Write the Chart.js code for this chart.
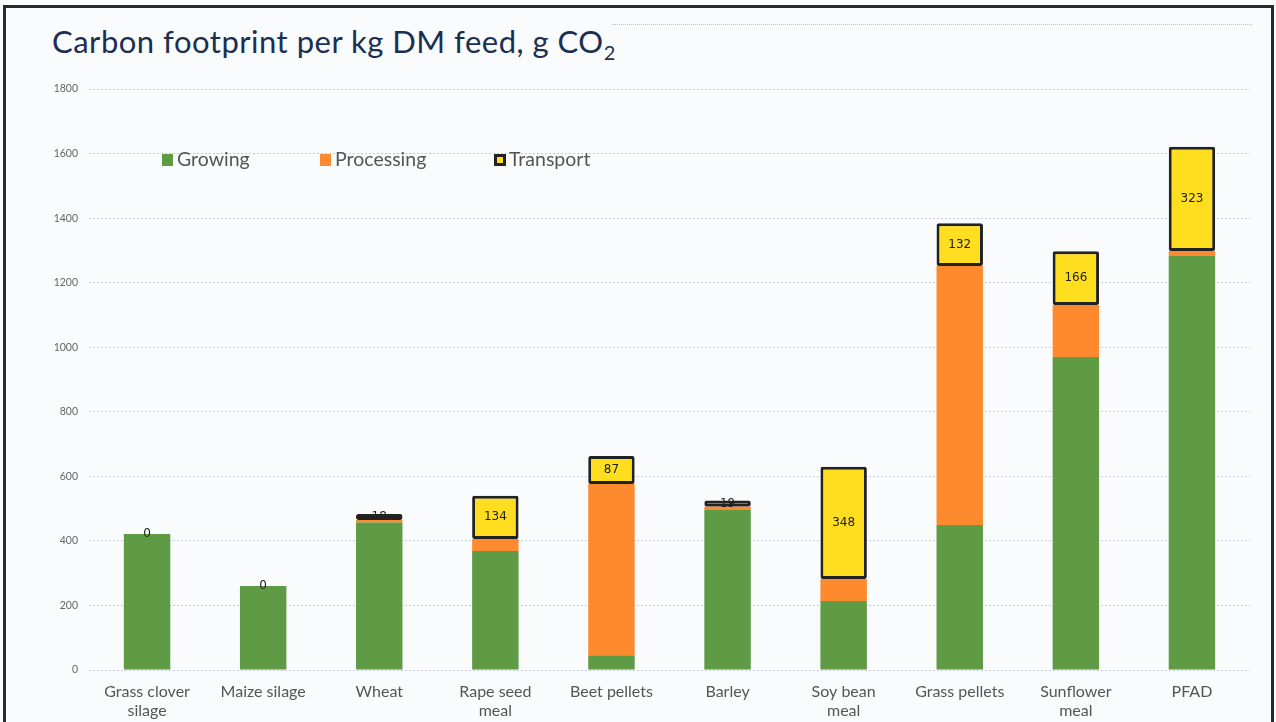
<!DOCTYPE html>
<html>
<head>
<meta charset="utf-8">
<script src="https://cdn.jsdelivr.net/npm/chart.js@4.4.0/dist/chart.umd.min.js"></script>
<style>
  html, body { margin: 0; padding: 0; background: #ffffff; }
  #wrap { position: relative; width: 1276px; height: 722px; background: #f9fbfd; overflow: hidden; }
  #frame { position: absolute; left: 3px; top: 5px; width: 1271px; height: 730px; border: 3px solid #2a2a2a; box-sizing: border-box; border-bottom: none; }
  #title { position: absolute; left: 52px; top: 22px; font-family: Lato, "Open Sans", sans-serif; font-size: 31px; color: #1b2f52; letter-spacing: 0.5px; white-space: nowrap; }
  #title sub { font-size: 20px; vertical-align: -7px; }
  #topdots { position: absolute; left: 612px; top: 24px; width: 640px; border-top: 1px dotted #b9bfd0; }
  canvas { position: absolute; left: 0; top: 0; }
</style>
</head>
<body>
<div id="wrap">
  <div id="frame"></div>
  <div id="topdots"></div>
  <div id="title">Carbon footprint per kg DM feed, g CO<sub>2</sub></div>
  <canvas id="c" width="1276" height="722"></canvas>
</div>
<script>
const categories = [["Grass clover","silage"],"Maize silage","Wheat",["Rape seed","meal"],"Beet pellets","Barley",["Soy bean","meal"],"Grass pellets",["Sunflower","meal"],"PFAD"];
const growing    = [421, 260, 457, 369, 46, 496, 214, 449, 970, 1283];
const processing = [0,   0,   8,   37, 530, 10, 68, 803, 161, 15];
const transport  = [0,   0,   18,  134, 87, 19, 348, 132, 166, 323];
const yTicks = [0,200,400,600,800,1000,1200,1400,1600,1800];

const seriesNames = ["Growing","Processing","Transport"];
const colors = { growing: "#5f9a45", processing: "#fd8a2e", transport: "#ffdd1f" };

const legendPlugin = {
  id: "inlineLegend",
  afterDraw(chart) {
    const ctx = chart.ctx;
    ctx.save();
    ctx.font = "19.5px Lato, 'Open Sans', sans-serif";
    ctx.textBaseline = "middle";
    const y = 160;
    const items = [
      { x: 162, text: seriesNames[0], fill: colors.growing, stroke: null },
      { x: 320, text: seriesNames[1], fill: colors.processing, stroke: null },
      { x: 494, text: seriesNames[2], fill: colors.transport, stroke: "#222" }
    ];
    items.forEach(it => {
      if (it.stroke) {
        ctx.fillStyle = it.stroke;
        ctx.fillRect(it.x, y - 6, 12, 12);
        ctx.fillStyle = it.fill;
        ctx.fillRect(it.x + 3, y - 3, 6, 6);
      } else {
        ctx.fillStyle = it.fill;
        ctx.fillRect(it.x, y - 6, 11, 12);
      }
      ctx.fillStyle = "#555555";
      ctx.fillText(it.text, it.x + 15, y);
    });
    ctx.restore();
  }
};

const labelPlugin = {
  id: "transportLabels",
  afterDatasetsDraw(chart) {
    const ctx = chart.ctx;
    const meta = chart.getDatasetMeta(2);
    ctx.save();
    ctx.font = "12px 'DejaVu Sans', sans-serif";
    ctx.fillStyle = "#222";
    ctx.textAlign = "center";
    ctx.textBaseline = "middle";
    meta.data.forEach((bar, i) => {
      const v = transport[i];
      const yc = (bar.y + bar.base) / 2;
      ctx.fillText(String(v), bar.x, yc);
    });
    ctx.restore();
  }
};

new Chart(document.getElementById("c"), {
  type: "bar",
  data: {
    labels: categories,
    datasets: [
      { label: seriesNames[0], data: growing, backgroundColor: colors.growing, borderWidth: 0 },
      { label: seriesNames[1], data: processing, backgroundColor: colors.processing, borderWidth: 0 },
      { label: seriesNames[2], data: transport, backgroundColor: colors.transport, borderColor: "#222222", borderWidth: 3, borderRadius: 2, borderSkipped: false }
    ]
  },
  options: {
    responsive: false,
    animation: false,
    maintainAspectRatio: false,
    layout: { padding: { left: 0, right: 26, top: 89, bottom: 0 } },
    datasets: { bar: { categoryPercentage: 1.0, barPercentage: 0.4 } },
    plugins: { legend: { display: false }, tooltip: { enabled: false }, title: { display: false } },
    scales: {
      x: {
        stacked: true,
        grid: { display: false, drawTicks: false },
        border: { display: false },
        ticks: { color: "#555", font: { size: 16, family: "Lato, 'Open Sans', sans-serif" }, padding: 12, maxRotation: 0, autoSkip: false },
        afterFit(scale) { scale.height = 52; }
      },
      y: {
        stacked: true,
        min: 0, max: 1800,
        afterBuildTicks(scale) { scale.ticks = yTicks.map(v => ({ value: v })); },
        grid: { color: "#c5cbdc", lineWidth: 1, drawTicks: false },
        border: { display: false, dash: [2, 2] },
        ticks: { color: "#666", font: { size: 10.5, family: "Lato, 'Open Sans', sans-serif" }, padding: 11, callback: (v) => String(v) },
        afterFit(scale) { scale.width = 89; }
      }
    }
  },
  plugins: [legendPlugin, labelPlugin]
});
</script>
</body>
</html>
